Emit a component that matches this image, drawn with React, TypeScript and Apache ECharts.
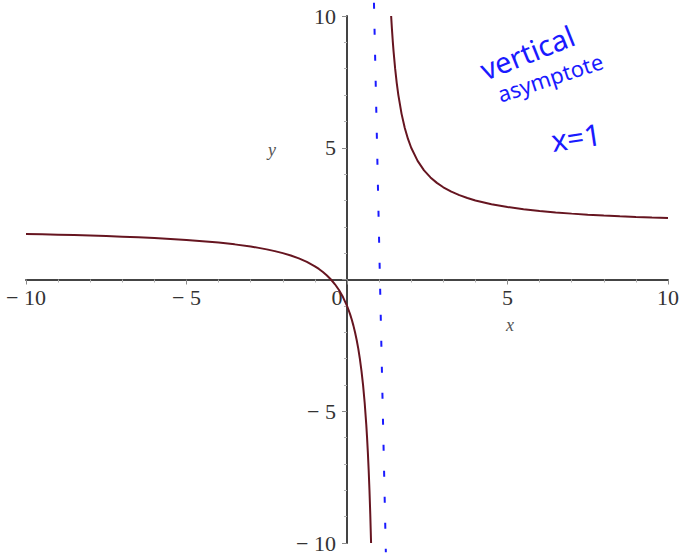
import { useEffect, useRef } from "react";
import * as echarts from "echarts";

// Sampled points of the curve, left branch (left of the asymptote)
const leftX = [-10, -9.5, -9, -8.5, -8, -7.5, -7, -6.5, -6, -5.5, -5, -4.5, -4, -3.5, -3, -2.75, -2.5, -2.25, -2, -1.75, -1.5, -1.25, -1, -0.875, -0.75, -0.625, -0.5, -0.375, -0.25, -0.125, 0, 0.05, 0.1, 0.15, 0.2, 0.25, 0.3, 0.35, 0.4, 0.45, 0.5, 0.55, 0.6, 0.625, 0.65, 0.675, 0.7, 0.725, 0.75];
const leftY = [1.7273, 1.7143, 1.7, 1.6842, 1.6667, 1.6471, 1.625, 1.6, 1.5714, 1.5385, 1.5, 1.4545, 1.4, 1.3333, 1.25, 1.2, 1.1429, 1.0769, 1, 0.9091, 0.8, 0.6667, 0.5, 0.4, 0.2857, 0.1538, 0, -0.1818, -0.4, -0.6667, -1, -1.1579, -1.3333, -1.5294, -1.75, -2, -2.2857, -2.6154, -3, -3.4545, -4, -4.6667, -5.5, -6, -6.5714, -7.2308, -8, -8.9091, -10];

// Right branch (right of the asymptote)
const rightX = [1.375, 1.4, 1.425, 1.45, 1.5, 1.55, 1.6, 1.7, 1.8, 1.9, 2, 2.2, 2.4, 2.6, 2.8, 3, 3.25, 3.5, 3.75, 4, 4.5, 5, 5.5, 6, 6.5, 7, 7.5, 8, 8.5, 9, 9.5, 10];
const rightY = [10, 9.5, 9.0588, 8.6667, 8, 7.4545, 7, 6.2857, 5.75, 5.3333, 5, 4.5, 4.1429, 3.875, 3.6667, 3.5, 3.3333, 3.2, 3.0909, 3, 2.8571, 2.75, 2.6667, 2.6, 2.5455, 2.5, 2.4615, 2.4286, 2.4, 2.375, 2.3529, 2.3333];

// Hand-drawn dashed asymptote, slightly slanted
const asymptoteX = [0.84, 1.21];
const asymptoteY = [10.5, -10.35];

const xRange = [-10, 10];
const yRange = [-10, 10];
const tickStep = 5;

const zip = (xs: number[], ys: number[]) => xs.map((x, i) => [x, ys[i]]);

const AXIS_COLOR = "#444444";
const LABEL_COLOR = "#333333";
const SERIF = "'Liberation Serif', 'DejaVu Serif', serif";
const INK = "#1a1aff";
const CURVE = "#661520";

const W = 684;
const H = 555;
const GRID = { left: 26, right: 16, top: 16, bottom: 12 };

const fmt = (v: number) => (v < 0 ? "\u2212 " + -v : String(v));

export default function App() {
  const ref = useRef<HTMLDivElement>(null);

  useEffect(() => {
    if (!ref.current) return;
    const chart = echarts.init(ref.current, undefined, { renderer: "svg" });

    const gridW = W - GRID.left - GRID.right;
    const gridH = H - GRID.top - GRID.bottom;
    // Shift each axis from the grid edge onto the other axis' zero
    const xAxisShift = -gridH * (0 - yRange[0]) / (yRange[1] - yRange[0]);
    const yAxisShift = -gridW * (0 - xRange[0]) / (xRange[1] - xRange[0]);

    const axisCommon = {
      type: "value" as const,
      interval: tickStep,
      axisLine: { onZero: false, lineStyle: { color: AXIS_COLOR, width: 2 } },
      axisTick: { show: true, length: 5, lineStyle: { color: "#8a8a8a", width: 1 } },
      minorTick: { show: true, splitNumber: 5, length: 3, lineStyle: { color: "#b0b0b0", width: 1 } },
      splitLine: { show: false },
    };

    const labelStyle = {
      color: LABEL_COLOR,
      fontFamily: SERIF,
      fontSize: 22,
    };

    chart.setOption({
      animation: false,
      backgroundColor: "#ffffff",
      grid: { ...GRID, containLabel: false, outerBoundsMode: "none" },
      xAxis: {
        ...axisCommon,
        position: "bottom",
        offset: xAxisShift,
        min: xRange[0],
        max: xRange[1],
        axisLabel: {
          ...labelStyle,
          margin: 7,
          formatter: (v: number) => (v === 0 ? "{z|0}" : fmt(v)),
          rich: {
            z: { ...labelStyle, padding: [0, 20, 0, 0] },
          },
        },
      },
      yAxis: {
        ...axisCommon,
        position: "left",
        offset: yAxisShift,
        min: yRange[0],
        max: yRange[1],
        axisLabel: {
          ...labelStyle,
          margin: 11,
          formatter: (v: number) => (v === 0 ? "" : fmt(v)),
        },
      },
      series: [
        {
          type: "line",
          data: zip(leftX, leftY),
          showSymbol: false,
          lineStyle: { color: CURVE, width: 2 },
          z: 3,
        },
        {
          type: "line",
          data: zip(rightX, rightY),
          showSymbol: false,
          lineStyle: { color: CURVE, width: 2 },
          z: 3,
        },
        {
          type: "line",
          data: zip(asymptoteX, asymptoteY),
          showSymbol: false,
          clip: false,
          lineStyle: { color: INK, width: 2, type: [6, 20] },
          z: 2,
        },
      ],
      graphic: [
        {
          type: "text",
          x: 272,
          y: 150,
          style: { text: "y", fontFamily: SERIF, fontStyle: "italic", fontSize: 18, fill: "#555", align: "center", verticalAlign: "middle" },
        },
        {
          type: "text",
          x: 510,
          y: 325,
          style: { text: "x", fontFamily: SERIF, fontStyle: "italic", fontSize: 18, fill: "#555", align: "center", verticalAlign: "middle" },
        },
        {
          type: "text",
          x: 527,
          y: 52,
          rotation: 0.38,
          style: { text: "vertical", fontFamily: "'Noto Sans', sans-serif", fontSize: 29, fill: INK, align: "center", verticalAlign: "middle" },
        },
        {
          type: "text",
          x: 550,
          y: 77,
          rotation: 0.32,
          style: { text: "asymptote", fontFamily: "'Noto Sans', sans-serif", fontSize: 22, fill: INK, align: "center", verticalAlign: "middle" },
        },
        {
          type: "text",
          x: 576,
          y: 137,
          rotation: 0.15,
          style: { text: "x=1", fontFamily: "'Noto Sans', sans-serif", fontSize: 30, fill: INK, align: "center", verticalAlign: "middle" },
        },
      ],
    });

    return () => chart.dispose();
  }, []);

  return (
    <div
      ref={ref}
      style={{ position: "fixed", left: 0, top: 0, width: W, height: H, background: "#fff" }}
    />
  );
}
